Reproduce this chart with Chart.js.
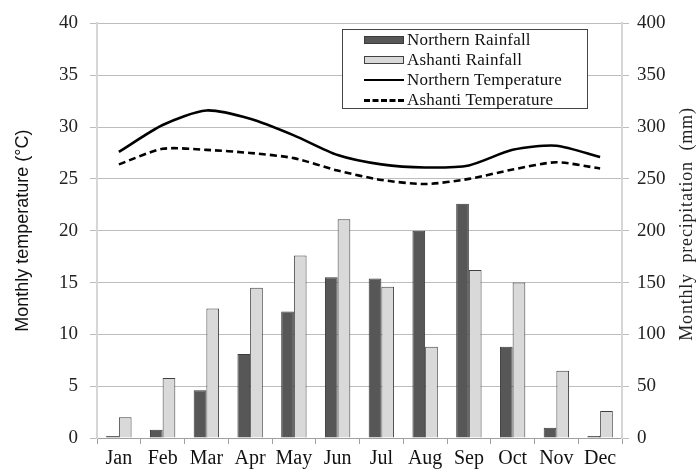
<!DOCTYPE html>
<html>
<head>
<meta charset="utf-8">
<script src="https://cdn.jsdelivr.net/npm/chart.js@4.4.0/dist/chart.umd.min.js"></script>
<style>
  html, body { margin: 0; padding: 0; background: #fff; }
  #wrap { position: relative; width: 696px; height: 472px; }
  #legend { position: absolute; left: 342px; top: 29px; width: 244px; height: 78px;
    border: 1px solid #444; background: #fff; font-family: "Liberation Serif", serif; font-size: 17px; color: #111; }
  .row { position: absolute; left: 21px; height: 20px; display: flex; align-items: center; white-space: nowrap; }
  .sw { width: 40px; margin-right: 3px; box-sizing: border-box; flex: none; }
  .row span { letter-spacing: 0.2px; }
</style>
</head>
<body>
<div id="wrap">
  <canvas id="c" width="696" height="472"></canvas>
  <div id="legend"></div>
</div>
<script>
const months = ["Jan","Feb","Mar","Apr","May","Jun","Jul","Aug","Sep","Oct","Nov","Dec"];
const northernRainfall = [2, 8, 46, 81, 122, 155, 154, 200, 226, 88, 10, 2];
const ashantiRainfall  = [20, 58, 125, 145, 176, 211, 146, 88, 162, 150, 65, 26];
const northernTemp = [27.6, 30.2, 31.6, 30.8, 29.2, 27.3, 26.4, 26.1, 26.3, 27.8, 28.2, 27.1];
const ashantiTemp  = [26.4, 27.9, 27.8, 27.5, 27.0, 25.8, 24.9, 24.5, 25.0, 25.9, 26.6, 26.0];
const tempTicks = [0, 5, 10, 15, 20, 25, 30, 35, 40];
const rainTicks = [0, 50, 100, 150, 200, 250, 300, 350, 400];

const serif = "'Liberation Serif', 'Times New Roman', serif";

const rightTitle = {
  id: 'rightTitle',
  afterDraw(chart) {
    const ctx = chart.ctx;
    ctx.save();
    ctx.translate(687, 224);
    ctx.rotate(-Math.PI / 2);
    ctx.font = "18px " + serif;
    ctx.letterSpacing = "0.8px";
    ctx.fillStyle = "#222";
    ctx.textAlign = "center";
    ctx.textBaseline = "middle";
    ctx.fillText("Monthly  precipitation  (mm)", 0, 0);
    ctx.restore();
  }
};

const chart = new Chart(document.getElementById('c'), {
  data: {
    labels: months,
    datasets: [
      { type: 'line', label: 'Northern Temperature', data: northernTemp, yAxisID: 'y',
        borderColor: '#000', borderWidth: 2.6, pointRadius: 0, tension: 0.25, order: 1 },
      { type: 'line', label: 'Ashanti Temperature', data: ashantiTemp, yAxisID: 'y',
        borderColor: '#000', borderWidth: 2.6, borderDash: [7, 4], pointRadius: 0, tension: 0.25, order: 2 },
      { type: 'bar', label: 'Northern Rainfall', data: northernRainfall, yAxisID: 'y1',
        backgroundColor: '#575757', borderColor: '#3a3a3a', borderWidth: 1,
        categoryPercentage: 0.58, barPercentage: 1.0, order: 3 },
      { type: 'bar', label: 'Ashanti Rainfall', data: ashantiRainfall, yAxisID: 'y1',
        backgroundColor: '#d9d9d9', borderColor: '#404040', borderWidth: 1,
        categoryPercentage: 0.58, barPercentage: 1.0, order: 4 }
    ]
  },
  options: {
    responsive: false,
    animation: false,
    devicePixelRatio: 1,
    layout: { padding: { top: 23, bottom: 0, left: 0, right: 0 } },
    plugins: { legend: { display: false }, tooltip: { enabled: false } },
    scales: {
      x: {
        offset: true,
        grid: { display: true, drawOnChartArea: false, offset: true, tickLength: 6, color: '#a0a0a0' },
        border: { color: '#a0a0a0' },
        ticks: { font: { family: serif, size: 20 }, color: '#111', padding: 3, maxRotation: 0 },
        afterFit(s) { s.height = 34; }
      },
      y: {
        position: 'left', min: 0, max: 40,
        afterBuildTicks(s) { s.ticks = tempTicks.map(v => ({ value: v })); },
        grid: { color: '#bdbdbd', tickLength: 7 },
        border: { color: '#d6d6d6', width: 2 },
        ticks: { font: { family: serif, size: 19 }, color: '#222', padding: 12 },
        title: { display: true, text: 'Monthly temperature (°C)', font: { family: "'Liberation Sans', Arial, sans-serif", size: 18 }, color: '#111', padding: { top: 12, bottom: 0 } },
        afterFit(s) { s.width = 97; }
      },
      y1: {
        position: 'right', min: 0, max: 400,
        afterBuildTicks(s) { s.ticks = rainTicks.map(v => ({ value: v })); },
        grid: { drawOnChartArea: false, color: '#bdbdbd', tickLength: 7 },
        border: { color: '#d6d6d6', width: 2 },
        ticks: { font: { family: serif, size: 19 }, color: '#222', padding: 8 },
        afterFit(s) { s.width = 74; }
      }
    }
  },
  plugins: [rightTitle]
});

// HTML legend built from the chart's datasets
const legendOrder = [2, 3, 0, 1];
const legendEl = document.getElementById('legend');
legendOrder.forEach((di, i) => {
  const ds = chart.data.datasets[di];
  const row = document.createElement('div');
  row.className = 'row';
  row.style.top = (i * 20) + 'px';
  const sw = document.createElement('div');
  sw.className = 'sw';
  if (ds.type === 'bar') {
    sw.style.height = '8px';
    sw.style.background = ds.backgroundColor;
    sw.style.border = '1px solid ' + ds.borderColor;
  } else {
    sw.style.height = '0px';
    sw.style.borderTop = (ds.borderDash ? '3px dashed ' : '2px solid ') + ds.borderColor;
  }
  const t = document.createElement('span');
  t.textContent = ds.label;
  row.appendChild(sw);
  row.appendChild(t);
  legendEl.appendChild(row);
});
</script>
</body>
</html>
